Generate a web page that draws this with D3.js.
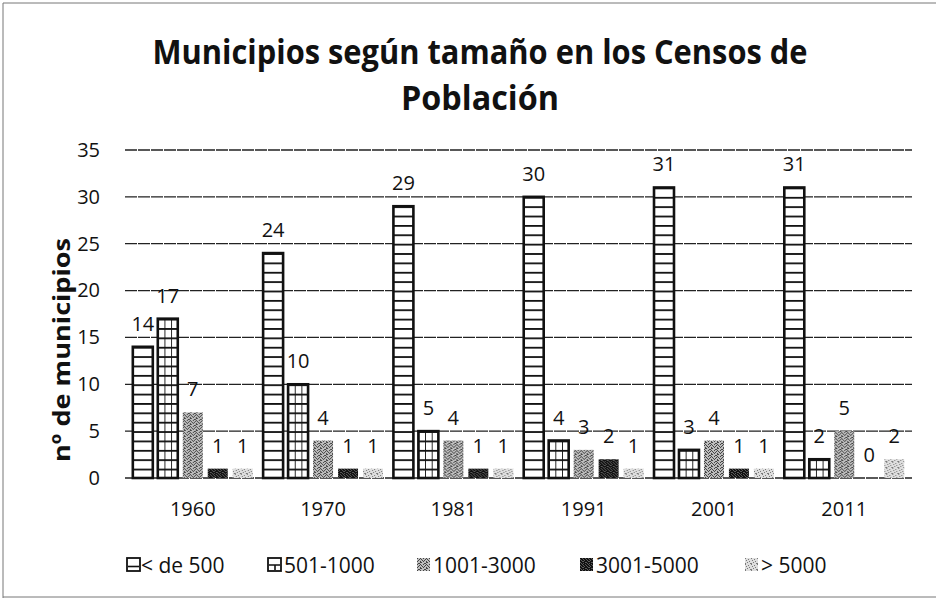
<!DOCTYPE html>
<html>
<head>
<meta charset="utf-8">
<script src="https://cdn.jsdelivr.net/npm/d3@7"></script>
<style>
  body { margin: 0; background: #fff; }
  text { font-family: "Open Sans", "DejaVu Sans", sans-serif; fill: #111; }
</style>
</head>
<body>
<div id="container"></div>
<script>
/* DATA */
const years = ["1960", "1970", "1981", "1991", "2001", "2011"];
const sizeClasses = ["< de 500", "501-1000", "1001-3000", "3001-5000", "> 5000"];
const lessThan500 = [14, 24, 29, 30, 31, 31];
const from501to1000 = [17, 10, 5, 4, 3, 2];
const from1001to3000 = [7, 4, 4, 3, 4, 5];
const from3001to5000 = [1, 1, 1, 2, 1, 0];
const moreThan5000 = [1, 1, 1, 1, 1, 2];
const yTicks = [0, 5, 10, 15, 20, 25, 30, 35];

const seriesValues = [lessThan500, from501to1000, from1001to3000, from3001to5000, moreThan5000];

// flat rows for drawing
const rows = [];
years.forEach((yr, i) => {
  sizeClasses.forEach((sc, j) => {
    rows.push({ year: yr, cls: sc, value: seriesValues[j][i] });
  });
});

/* CONSTANTS */
const width = 937;
const height = 601;
const plot = { left: 125, right: 912, top: 150, bottom: 478 };

const svg = d3.select("#container")
  .append("svg")
  .attr("width", width)
  .attr("height", height);

// scales
const x0 = d3.scaleBand()
  .domain(years)
  .range([plot.left, plot.right])
  .paddingInner(0.08)
  .paddingOuter(0.06);

const x1 = d3.scaleBand()
  .domain(sizeClasses)
  .range([0, x0.bandwidth()])
  .paddingInner(0.2);

const y = d3.scaleLinear()
  .domain([0, 35])
  .range([plot.bottom, plot.top]);

const unitPx = y(0) - y(1);

/* PATTERNS (scanned b/w look) */
const defs = svg.append("defs");

// horizontal stripes
const hp = defs.append("pattern")
  .attr("id", "hstripe")
  .attr("patternUnits", "userSpaceOnUse")
  .attr("width", 10)
  .attr("height", unitPx)
  .attr("y", plot.bottom);
hp.append("rect").attr("width", 10).attr("height", unitPx).attr("fill", "#fff");
hp.append("rect").attr("y", 0).attr("width", 10).attr("height", 1.8).attr("fill", "#111");

// vertical lines at thirds of a bar
const vp = defs.append("pattern")
  .attr("id", "vthird")
  .attr("patternUnits", "objectBoundingBox")
  .attr("width", 1 / 3)
  .attr("height", 1);
vp.append("rect").attr("x", -0.9).attr("width", 1.8).attr("height", 1000).attr("fill", "#111");

// stipples built from a small dot map
function stipple(id, bg, fg, map) {
  const n = map.length;
  const p = defs.append("pattern")
    .attr("id", id)
    .attr("patternUnits", "userSpaceOnUse")
    .attr("width", n)
    .attr("height", n);
  p.append("rect").attr("width", n).attr("height", n).attr("fill", bg);
  map.forEach((row, r) => {
    row.split("").forEach((c, k) => {
      if (c === "1") p.append("rect").attr("x", k).attr("y", r).attr("width", 1).attr("height", 1).attr("fill", fg);
    });
  });
}
stipple("medium", "#bdbdbd", "#444", ["100100", "001010", "010001", "100100", "000110", "011000"]);
stipple("dark", "#5a5a5a", "#111", ["110110", "011011", "101101", "110011", "011110", "101011"]);
stipple("light", "#dedede", "#7a7a7a", ["100000", "000100", "010000", "000010", "001000", "100001"]);

const fills = {
  "< de 500": "url(#hstripe)",
  "501-1000": "url(#hstripe)",
  "1001-3000": "url(#medium)",
  "3001-5000": "url(#dark)",
  "> 5000": "url(#light)"
};
const outlined = d => d === "< de 500" || d === "501-1000";

/* OUTER FRAME (left, top, bottom like the scan) */
svg.append("path")
  .attr("d", "M3,598 L3,3 L936,3 M3,597 L936,597")
  .attr("fill", "none")
  .attr("stroke", "#777")
  .attr("stroke-width", 1);

/* GRIDLINES */
svg.append("g")
  .selectAll("line")
  .data(yTicks)
  .join("line")
  .attr("x1", plot.left)
  .attr("x2", plot.right)
  .attr("y1", d => y(d))
  .attr("y2", d => y(d))
  .attr("stroke", "#222")
  .attr("stroke-width", 1.3)
  .attr("stroke-dasharray", "12,1");

// y axis labels
const yAxis = svg.append("g")
  .attr("transform", `translate(${plot.left},0)`)
  .call(d3.axisLeft(y).tickValues(yTicks).tickSize(0).tickPadding(25));
yAxis.select(".domain").remove();
yAxis.selectAll("text")
  .attr("font-family", "Open Sans")
  .attr("font-size", 20)
  .attr("fill", "#111");

// x axis labels
const xAxis = svg.append("g")
  .attr("transform", `translate(0,${plot.bottom})`)
  .call(d3.axisBottom(x0).tickSize(0).tickPadding(24));
xAxis.select(".domain").remove();
xAxis.selectAll("text")
  .attr("font-family", "Open Sans")
  .attr("font-size", 20)
  .attr("fill", "#111");

/* BARS */
const groups = svg.append("g")
  .selectAll("g")
  .data(years)
  .join("g")
  .attr("transform", d => `translate(${x0(d)},0)`);

const barRows = groups.selectAll("g.bar")
  .data(yr => rows.filter(r => r.year === yr))
  .join("g")
  .attr("class", "bar");

barRows.filter(d => d.value > 0)
  .append("rect")
  .attr("x", d => x1(d.cls))
  .attr("y", d => y(d.value))
  .attr("width", x1.bandwidth())
  .attr("height", d => y(0) - y(d.value))
  .attr("fill", d => fills[d.cls]);

// grid overlay for 501-1000
barRows.filter(d => d.cls === "501-1000" && d.value > 0)
  .append("rect")
  .attr("x", d => x1(d.cls))
  .attr("y", d => y(d.value))
  .attr("width", x1.bandwidth())
  .attr("height", d => y(0) - y(d.value))
  .attr("fill", "url(#vthird)");

// outlines for the line-pattern series
barRows.filter(d => outlined(d.cls) && d.value > 0)
  .append("rect")
  .attr("x", d => x1(d.cls))
  .attr("y", d => y(d.value))
  .attr("width", x1.bandwidth())
  .attr("height", d => y(0) - y(d.value))
  .attr("fill", "none")
  .attr("stroke", "#111")
  .attr("stroke-width", 2.6);

// value labels
barRows.append("text")
  .attr("x", d => x1(d.cls) + x1.bandwidth() / 2)
  .attr("y", d => y(d.value) - 16)
  .attr("text-anchor", "middle")
  .attr("font-size", 20)
  .text(d => d.value);

/* TITLES */
svg.append("text")
  .attr("x", 480)
  .attr("y", 64)
  .attr("text-anchor", "middle")
  .attr("font-size", 34)
  .attr("font-weight", "bold")
  .attr("textLength", 655)
  .attr("lengthAdjust", "spacingAndGlyphs")
  .text("Municipios según tamaño en los Censos de");
svg.append("text")
  .attr("x", 480)
  .attr("y", 110)
  .attr("text-anchor", "middle")
  .attr("font-size", 34)
  .attr("font-weight", "bold")
  .attr("textLength", 158)
  .attr("lengthAdjust", "spacingAndGlyphs")
  .text("Población");

svg.append("text")
  .attr("transform", "translate(70,350) rotate(-90)")
  .attr("text-anchor", "middle")
  .attr("font-size", 24)
  .attr("font-weight", "bold")
  .attr("textLength", 224)
  .attr("lengthAdjust", "spacingAndGlyphs")
  .text("nº de municipios");

/* LEGEND */
const legendX = [127, 268, 417, 580, 745];
const legend = svg.append("g")
  .selectAll("g")
  .data(sizeClasses)
  .join("g")
  .attr("transform", (d, i) => `translate(${legendX[i]},558)`);

legend.append("rect")
  .attr("width", 13)
  .attr("height", 13)
  .attr("fill", d => d === "< de 500" || d === "501-1000" ? "#fff" : fills[d]);
legend.filter(d => outlined(d))
  .append("path")
  .attr("d", d => d === "< de 500" ? "M1,8.5 H12" : "M1,7 H12 M7,7 V12")
  .attr("stroke", "#111")
  .attr("stroke-width", 1.6);
legend.filter(d => outlined(d))
  .append("rect")
  .attr("width", 13)
  .attr("height", 13)
  .attr("fill", "none")
  .attr("stroke", "#111")
  .attr("stroke-width", 1.8);

legend.append("text")
  .attr("x", d => d === "< de 500" ? 14 : 16)
  .attr("y", 15)
  .attr("font-size", 21)
  .text(d => d);
</script>
</body>
</html>
